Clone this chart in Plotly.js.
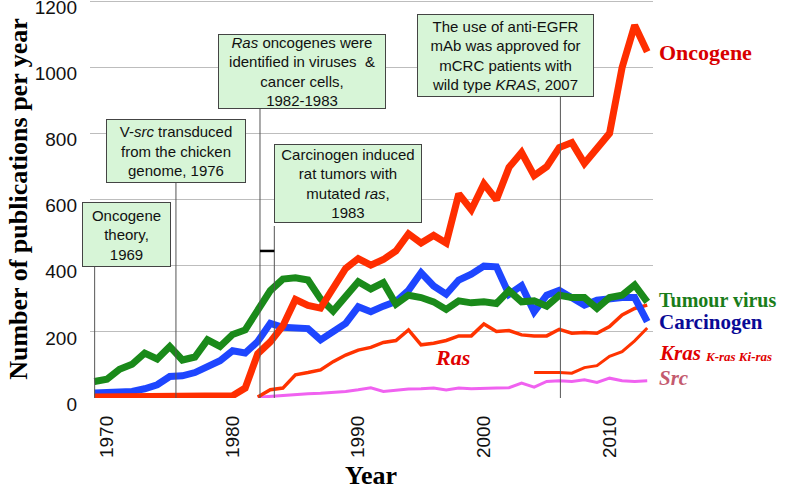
<!DOCTYPE html>
<html>
<head>
<meta charset="utf-8">
<script src="https://cdn.plot.ly/plotly-3.0.1.min.js"></script>
<style>
  html, body { margin:0; padding:0; background:#fff; }
  #chart { width:786px; height:490px; }
</style>
</head>
<body>
<div id="chart"></div>
<script>

/* ==========================================
   DATA
========================================== */

const years = [
    1969,1970,1971,1972,1973,1974,1975,1976,1977,1978,1979,1980,
    1981,1982,1983,1984,1985,1986,1987,1988,1989,1990,
    1991,1992,1993,1994,1995,1996,1997,1998,1999,2000,
    2001,2002,2003,2004,2005,2006,2007,2008,2009,2010,
    2011,2012,2013
];

const oncogene = [
    3,3,3,4,4,5,6,4,4,4,5,7,
    30,134,170,218,298,280,272,337,392,422,
    402,419,445,497,469,492,469,618,570,648,
    600,698,743,673,700,758,773,710,758,801,
    1000,1128,1048
];

const tumourVirus = [
    50,57,87,102,136,118,156,115,124,176,156,192,
    206,261,325,360,364,357,300,263,310,352,
    330,349,284,311,304,291,268,294,288,291,
    286,325,291,294,278,311,304,304,271,304,
    311,342,291
];

const carcinogen = [
    15,17,20,20,28,40,65,67,77,97,113,143,
    136,171,226,214,212,210,176,201,226,276,
    261,278,292,326,379,339,314,357,375,399,
    397,314,340,261,311,326,306,281,296,301,
    304,304,231
];

const rasYears = [
    1982,1983,1984,1985,1986,1987,1988,1989,1990,
    1991,1992,1993,1994,1995,1996,1997,1998,1999,2000,
    2001,2002,2003,2004,2005,2006,2007,2008,2009,2010,
    2011,2012,2013
];

const ras = [
    3,25,30,70,77,85,110,130,145,
    153,168,174,206,161,166,174,188,188,224,
    201,204,191,188,188,208,196,198,196,216,
    251,271,281
];

const src = [
    2,5,7,10,13,14,16,20,25,
    31,20,24,27,28,30,24,30,28,30,
    30,31,45,33,50,52,50,55,47,60,
    52,50,52
];

const krasYears = [2004,2005,2006,2007,2008,2009,2010,2011,2012,2013];

const kras = [77,78,77,75,92,98,126,140,173,212];

const xTicks = [1970,1980,1990,2000,2010];

const yTicks = [0,200,400,600,800,1000,1200];


/* ==========================================
   PLOT AREA (pixels)
========================================== */

const W = 786, H = 490;
const PL = 90, PR = 653, PT = 0, PB = 398;

function px(x){ return (x - PL) / (PR - PL); }
function py(y){ return (PB - y) / (PB - PT); }

const boxFont = { family:"Liberation Sans, Arial, sans-serif", size:15, color:"#111" };
const titleFont = { family:"Liberation Serif, Times New Roman, serif", size:26, color:"#000", weight:"bold" };

function noteBox(text, x0, y0, x1, y1){
    return {
        xref:"paper", yref:"paper",
        x:px((x0 + x1) / 2), y:py((y0 + y1) / 2),
        xanchor:"center", yanchor:"middle",
        width:x1 - x0 - 4, height:y1 - y0 - 4,
        text:text, showarrow:false, align:"center", valign:"middle",
        bgcolor:"#d7f5d7", bordercolor:"#444", borderwidth:1, borderpad:1,
        font:boxFont
    };
}

function sideLabel(text, x, y, size, color, italic){
    return {
        xref:"paper", yref:"paper",
        x:px(x), y:py(y),
        xanchor:"left", yanchor:"middle",
        text:text, showarrow:false,
        font:{ family:"Liberation Serif, Times New Roman, serif", size:size,
               color:color, weight:"bold", style: italic ? "italic" : "normal" }
    };
}

function connector(year, yTop){
    return {
        type:"line", xref:"x", yref:"paper",
        x0:year, x1:year, y0:0, y1:py(yTop),
        line:{ color:"#555", width:1 }, layer:"above"
    };
}


/* ==========================================
   DRAW
========================================== */

function drawChart(){

    const traces = [
        { x:rasYears, y:src, mode:"lines", line:{ color:"#f062f0", width:3 } },
        { x:krasYears, y:kras, mode:"lines", line:{ color:"#ff3300", width:3 } },
        { x:rasYears, y:ras, mode:"lines", line:{ color:"#ff3300", width:3.5 } },
        { x:years, y:carcinogen, mode:"lines", line:{ color:"#1e46ff", width:7 } },
        { x:years, y:tumourVirus, mode:"lines", line:{ color:"#1a8a1a", width:7 } },
        { x:years, y:oncogene, mode:"lines", line:{ color:"#ff2e00", width:7 } }
    ];

    const layout = {
        width:W, height:H,
        margin:{ l:PL, r:W - PR, t:PT, b:H - PB },
        paper_bgcolor:"#fff", plot_bgcolor:"#fff",
        showlegend:false,
        xaxis:{
            range:[1968.65, 2013.46],
            tickvals:xTicks,
            tickangle:-90,
            ticks:"", showgrid:false, zeroline:false, showline:false,
            ticklabelstandoff:13,
            tickfont:{ family:"Liberation Sans, Arial, sans-serif", size:19, color:"#111" }
        },
        yaxis:{
            range:[0, 1204.5],
            tickvals:yTicks,
            ticks:"", showline:false, zeroline:false,
            gridcolor:"#bdbdbd", gridwidth:1,
            ticklabelstandoff:12,
            ticklabelshift:6,
            ticklabeloverflow:"allow",
            tickfont:{ family:"Liberation Sans, Arial, sans-serif", size:19, color:"#111" },
            title:{ text:"Number of publications per year", font:titleFont }
        },
        shapes:[
            connector(1969.02, 267),
            connector(1975.49, 183),
            connector(1982.18, 109),
            connector(1983.32, 226),
            connector(2006.09, 97),
            { type:"line", xref:"x", yref:"y", x0:1982.18, x1:1983.32, y0:445, y1:445,
              line:{ color:"#000", width:2.5 } }
        ],
        annotations:[
            { xref:"paper", yref:"paper", x:px(371), y:py(475), xanchor:"center", yanchor:"middle",
              text:"Year", showarrow:false, font:titleFont },

            noteBox("Oncogene<br>theory,<br>1969", 82, 202, 171, 267),
            noteBox("V-<i>src</i> transduced<br>from the chicken<br>genome, 1976", 106, 119, 246, 183),
            noteBox("<i>Ras</i> oncogenes were<br>identified in viruses  &amp;<br>cancer cells,<br>1982-1983", 218, 34, 386, 109),
            noteBox("Carcinogen induced<br>rat tumors with<br>mutated <i>ras</i>,<br>1983", 274, 144, 422, 223),
            noteBox("The use of anti-EGFR<br>mAb was approved for<br>mCRC patients with<br>wild type <i>KRAS</i>, 2007", 417, 14, 594, 97),

            sideLabel("Oncogene", 657, 53, 22, "#d80000", false),
            sideLabel("Tumour virus", 657, 300, 20, "#1a7d1a", false),
            sideLabel("Carcinogen", 657, 322, 21, "#0a0a96", false),
            sideLabel("Kras", 657, 353, 21, "#e00000", true),
            sideLabel("K-ras Ki-ras", 703, 356, 13, "#e00000", true),
            sideLabel("Src", 657, 378, 21, "#c45a6e", true),
            sideLabel("Ras", 433, 357, 22, "#e00000", true)
        ]
    };

    Plotly.newPlot("chart", traces, layout, { displayModeBar:false, staticPlot:true });
}

drawChart();

</script>
</body>
</html>
